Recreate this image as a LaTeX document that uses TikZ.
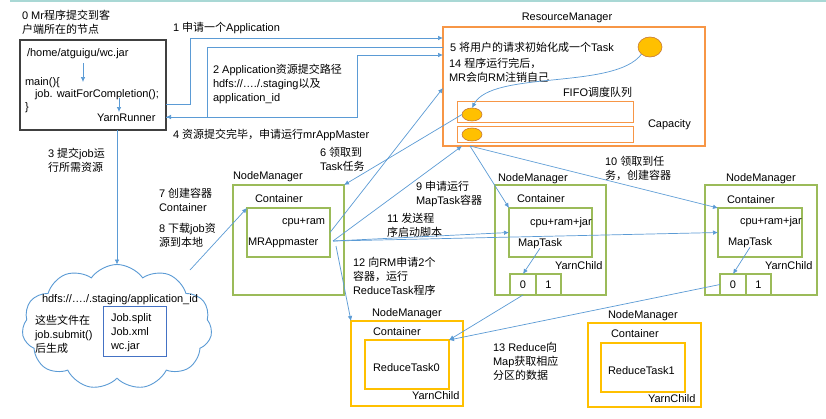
\documentclass[tikz,border=0pt]{standalone}
\usepackage{fontspec}
\setmainfont{Liberation Sans}
\newfontfamily\cjk{Noto Sans CJK SC}
\usetikzlibrary{shapes.symbols,shapes.geometric,arrows.meta}
\newcommand\zh[1]{{\cjk #1}}
\definecolor{lblue}{HTML}{5B9BD5}
\definecolor{dblue}{HTML}{4472C4}
\definecolor{orng}{HTML}{F79646}
\definecolor{grn}{HTML}{9BBB59}
\definecolor{ylw}{HTML}{FFC000}
\definecolor{tealc}{HTML}{A9D8D5}
\definecolor{blk}{HTML}{404040}
\begin{document}
\begin{tikzpicture}[x=1pt,y=-1pt,
  every node/.style={inner sep=0pt,outer sep=0pt,font=\fontsize{11}{13.8}\selectfont},
  lbl/.style={anchor=base west,align=left},
  frame/.style={draw,anchor=north west,line width=1.1pt},
  blkbox/.style={frame,draw=blk},
  rmbox/.style={frame,draw=orng},
  qbox/.style={frame,draw=orng,line width=1pt},
  gbox/.style={frame,draw=grn},
  ybox/.style={frame,draw=ylw,line width=1.3pt},
  ell/.style={ellipse,draw=orng!80!black,fill=ylw,line width=0.6pt},
  conn/.style={draw=lblue,line width=0.7pt,-{Latex[length=5pt,width=4.5pt]}},
  plain/.style={draw=lblue,line width=0.7pt}]
\useasboundingbox (0,0) rectangle (826,418);
\fill[white] (0,0) rectangle (826,418);
\draw[tealc,line width=1.5pt] (10,1) -- (826,1);

% client
\node[lbl] (t0) at (22,33) {0 Mr\zh{程序提交到客}\\\zh{户端所在的节点}};
\node[blkbox,minimum width=146,minimum height=90] (client) at (20,40) {};
\node[lbl] (jar) at (27,56) {/home/atguigu/wc.jar};
\node[lbl] (main) at (25,85) {main()\{};
\node[lbl] (job) at (35,97) {job. waitForCompletion();};
\node[lbl] (brace) at (25,110) {\}};
\node[lbl] (yr) at (97,121) {YarnRunner};
\coordinate (ja) at (83,63); \coordinate (jb) at (83,82);
\coordinate (ka) at (119,98); \coordinate (kb) at (119,112);
\draw[conn] (ja) -- (jb);
\draw[conn] (ka) -- (kb);

% resource manager
\node[anchor=base] (rmlbl) at (567,20) {ResourceManager};
\node[rmbox,minimum width=262,minimum height=119] (rm) at (443,27) {};
\node[lbl] (t5) at (450,51) {5 \zh{将用户的请求初始化成一个}Task};
\node[lbl] (t14) at (449,81) {14 \zh{程序运行完后，}\\MR\zh{会向}RM\zh{注销自己}};
\node[ell,minimum width=24,minimum height=20] (bigE) at (650,47) {};
\node[lbl] (fifo) at (563,96) {FIFO\zh{调度队列}};
\node[qbox,minimum width=176,minimum height=21] (q1) at (457,101) {};
\node[qbox,minimum width=176,minimum height=16] (q2) at (457,126) {};
\node[ell,minimum width=20,minimum height=13] (qe1) at (472,114.5) {};
\node[ell,minimum width=20,minimum height=13] (qe2) at (472,134.5) {};
\node[lbl] (cap) at (648,127) {Capacity};
\draw[conn] (bigE.south west) .. controls (615,90) and (492,70) .. (qe1.north);

% labels of connectors
\node[lbl] (l1) at (173,31) {1 \zh{申请一个}Application};
\node[lbl] (l2) at (213,101) {2 Application\zh{资源提交路径}\\hdfs://…./.staging\zh{以及}\\application\_id};
\node[lbl] (l4) at (173,138) {4 \zh{资源提交完毕，申请运行}mrAppMaster};
\node[lbl] (l3) at (48,171) {3 \zh{提交}job\zh{运}\\\zh{行所需资源}};
\node[lbl] (l7) at (159,211) {7 \zh{创建容器}\\Container};
\node[lbl] (l8) at (159,246) {8 \zh{下载}job\zh{资}\\\zh{源到本地}};
\node[lbl] (l6) at (320,170) {6 \zh{领取到}\\Task\zh{任务}};
\node[lbl] (l9) at (416,204) {9 \zh{申请运行}\\MapTask\zh{容器}};
\node[lbl] (l11) at (387,236) {11 \zh{发送程}\\\zh{序启动脚本}};
\node[lbl] (l12) at (353,294) {12 \zh{向}RM\zh{申请}2\zh{个}\\\zh{容器，运行}\\ReduceTask\zh{程序}};
\node[lbl] (l10) at (605,179) {10 \zh{领取到任}\\\zh{务，创建容器}};
\node[lbl] (l13) at (493,379) {13 Reduce\zh{向}\\Map\zh{获取相应}\\\zh{分区的数据}};

% NodeManager 1
\node[lbl] (nm1l) at (233,179) {NodeManager};
\node[gbox,minimum width=111,minimum height=110] (nm1) at (233,185) {};
\node[lbl] (c1) at (255,202) {Container};
\node[gbox,minimum width=83,minimum height=49] (mrin) at (247,208) {};
\node[lbl] (cr1) at (282,224) {cpu+ram};
\node[lbl] (mra) at (248,245) {MRAppmaster};
\coordinate (mo) at (333,241);
\coordinate (mo2) at (336,246);

% NodeManager 2
\node[lbl] (nm2l) at (498,181) {NodeManager};
\node[gbox,minimum width=111,minimum height=110] (nm2) at (495,185) {};
\node[lbl] (c2) at (517,202) {Container};
\node[gbox,minimum width=83,minimum height=49] (mt1in) at (509,208) {};
\node[lbl] (cr2) at (530,225) {cpu+ram+jar};
\node[lbl] (mt1) at (518,246) {MapTask};
\node[lbl] (yc2) at (555,269) {YarnChild};
\node[gbox,minimum width=26,minimum height=21] (p10) at (510,274) {};
\node[gbox,minimum width=25,minimum height=21] (p11) at (536,274) {};
\node (p10t) at (p10.center) {0};
\node (p11t) at (p11.center) {1};

% NodeManager 3
\node[lbl] (nm3l) at (726,181) {NodeManager};
\node[gbox,minimum width=112,minimum height=110] (nm3) at (705,185) {};
\node[lbl] (c3) at (727,203) {Container};
\node[gbox,minimum width=84,minimum height=49] (mt2in) at (718,208) {};
\node[lbl] (cr3) at (740,224) {cpu+ram+jar};
\node[lbl] (mt2) at (728,245) {MapTask};
\node[lbl] (yc3) at (765,269) {YarnChild};
\node[gbox,minimum width=26,minimum height=21] (p20) at (720,274) {};
\node[gbox,minimum width=25,minimum height=21] (p21) at (746,274) {};
\node (p20t) at (p20.center) {0};
\node (p21t) at (p21.center) {1};

% NodeManager 4
\node[lbl] (nm4l) at (372,316) {NodeManager};
\node[ybox,minimum width=112,minimum height=85] (nm4) at (351,321) {};
\node[lbl] (c4) at (373,335) {Container};
\node[ybox,minimum width=84,minimum height=49] (rt0in) at (365,340) {};
\node[lbl] (rt0) at (373,371) {ReduceTask0};
\node[lbl] (yc4) at (412,399) {YarnChild};

% NodeManager 5
\node[lbl] (nm5l) at (608,318) {NodeManager};
\node[ybox,minimum width=113,minimum height=84] (nm5) at (588,323) {};
\node[lbl] (c5) at (611,337) {Container};
\node[ybox,minimum width=84,minimum height=49] (rt1in) at (601,343) {};
\node[lbl] (rt1) at (608,374) {ReduceTask1};
\node[lbl] (yc5) at (648,402) {YarnChild};

% cloud
\node[cloud,draw=lblue,line width=0.9pt,cloud puffs=11,cloud puff arc=110,minimum width=190,minimum height=125] (cloud) at (117,327) {};
\coordinate (cl8) at (190,270);
\node[lbl] (hdfs) at (42,302) {hdfs://…./.staging/application\_id};
\node[lbl] (gen) at (35,352) {\zh{这些文件在}\\job.submit()\\\zh{后生成}};
\node[frame,draw=dblue,line width=1pt,minimum width=63,minimum height=50] (fb) at (103,306) {};
\node[lbl] (files) at (111,349) {Job.split\\Job.xml\\wc.jar};

% connectors
\coordinate (c1a) at (190,104); \coordinate (c1b) at (190,38);
\draw[conn] (client.east |- c1a) -- (c1a) -- (c1b) -- (rm.west |- c1b);
\coordinate (c2a) at (207,47); \coordinate (c2b) at (207,117);
\draw[conn] (rm.west |- c2a) -- (c2a) -- (c2b) -- (client.east |- c2b);
\coordinate (c4a) at (357,117); \coordinate (c4b) at (357,55);
\draw[conn] (client.east |- c4a) -- (c4a) -- (c4b) -- (rm.west |- c4b);
\draw[conn] (cloud.north |- client.south) -- (cloud.north);
\draw[conn] (cl8) -- (mrin.north west);
\draw[conn] (qe1.west) -- (nm1.north east);
\coordinate (rmw) at (443,88);
\draw[conn] (mrin.east) -- (rmw);
\coordinate (rmb1) at (462,146);
\draw[conn] (mo) -- (rmb1);
\coordinate (rmb2) at (470,146);
\draw[conn] (rmb2) -- (mt1in.north west);
\draw[conn] (rmb2) -- (mt2in.north west);
\draw[conn] (mo) -- (mt1in.west);
\draw[conn] (mo) -- (mt2in.west);
\draw[conn] (mo2) -- (nm4.north west);
\draw[conn] (mt1.south) -- (p10.north);
\draw[conn] (mt2.south) -- (p20.north);
\draw[conn] (p10.south) -- (rt0in.north east);
\draw[conn] (p20.west) -- (rt0in.north east);
\end{tikzpicture}
\end{document}
